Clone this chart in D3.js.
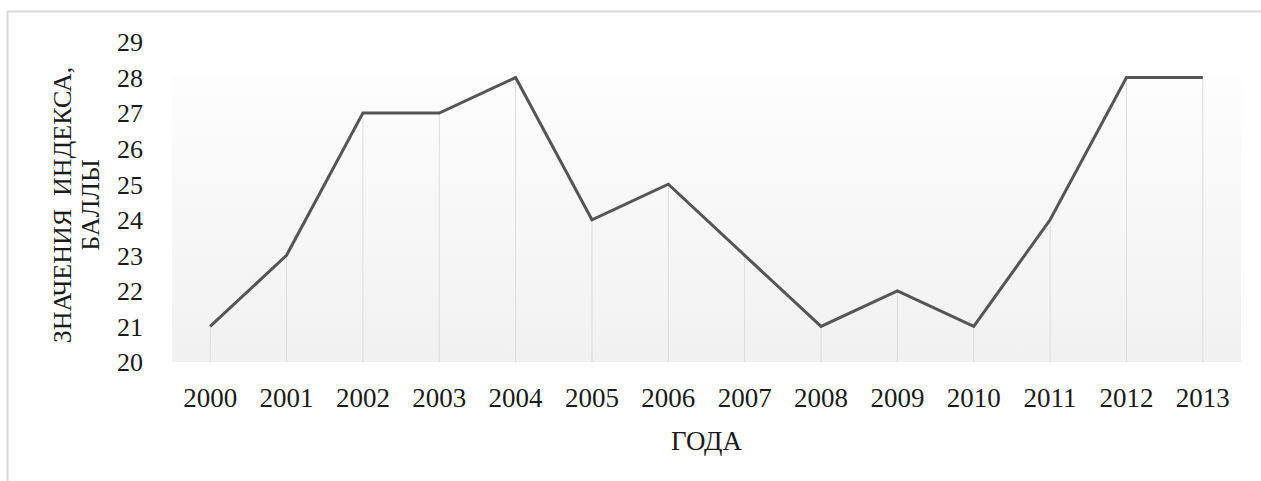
<!DOCTYPE html>
<html>
<head>
<meta charset="utf-8">
<script src="https://cdn.jsdelivr.net/npm/d3@7"></script>
<style>
  body { margin: 0; background: #fff; }
  text { font-family: "Liberation Serif", "Times New Roman", serif; fill: #1a1a1a; }
</style>
</head>
<body>
<svg width="1261" height="481"></svg>
<script>
var years = ["2000", "2001", "2002", "2003", "2004", "2005", "2006",
             "2007", "2008", "2009", "2010", "2011", "2012", "2013"];
var values = [21, 23, 27, 27, 28, 24, 25, 23, 21, 22, 21, 24, 28, 28];
var yTicks = [20, 21, 22, 23, 24, 25, 26, 27, 28, 29];
var xTitle = "ГОДА";
var yTitle = ["ЗНАЧЕНИЯ  ИНДЕКСА,", "БАЛЛЫ"];

var svg = d3.select("svg"),
    margin = {top: 42, right: 20, bottom: 119, left: 172},
    width = 1241 - margin.left,
    height = 362 - margin.top;

// chart border
svg.append("rect")
    .attr("x", 7.5).attr("y", 11.5)
    .attr("width", 1270).attr("height", 500)
    .attr("fill", "none").attr("stroke", "#d9d9d9").attr("stroke-width", 2);

var defs = svg.append("defs");
var grad = defs.append("linearGradient")
    .attr("id", "bg").attr("x1", 0).attr("y1", 0).attr("x2", 0).attr("y2", 1);
grad.append("stop").attr("offset", "0%").attr("stop-color", "#fdfdfd");
grad.append("stop").attr("offset", "100%").attr("stop-color", "#f1f1f1");

var g = svg.append("g")
    .attr("transform", "translate(" + margin.left + "," + margin.top + ")");

var x = d3.scaleBand().domain(years).range([0, width]);
var y = d3.scaleLinear().domain([20, 29]).range([height, 0]);

// plot background
g.append("rect")
    .attr("x", 0).attr("y", y(28) - 1)
    .attr("width", width).attr("height", height - y(28) + 1)
    .attr("fill", "url(#bg)");

// drop lines
g.selectAll(".drop")
    .data(values)
    .enter()
    .append("line")
    .attr("x1", (d, i) => x(years[i]) + x.bandwidth() / 2)
    .attr("x2", (d, i) => x(years[i]) + x.bandwidth() / 2)
    .attr("y1", d => y(d)).attr("y2", height)
    .attr("stroke", "#dcdcdc").attr("stroke-width", 1);

var line = d3.line()
    .x((d, i) => x(years[i]) + x.bandwidth() / 2)
    .y(d => y(d));

g.append("path")
    .datum(values)
    .attr("d", line)
    .attr("fill", "none")
    .attr("stroke", "#555555")
    .attr("stroke-width", 3)
    .attr("stroke-linejoin", "miter");

// axes
var yAxis = g.append("g")
    .call(d3.axisLeft(y).tickValues(yTicks).tickSize(0).tickPadding(29));
yAxis.select(".domain").remove();
yAxis.selectAll("text")
    .attr("font-size", 26).attr("dy", "0.34em")
    .style("font-family", "Liberation Serif").attr("fill", "#1a1a1a");

var xAxis = g.append("g")
    .attr("transform", "translate(0," + height + ")")
    .call(d3.axisBottom(x).tickSize(0).tickPadding(26));
xAxis.select(".domain").remove();
xAxis.selectAll("text")
    .attr("font-size", 27)
    .style("font-family", "Liberation Serif").attr("fill", "#1a1a1a");

// titles
g.append("text")
    .attr("x", width / 2).attr("y", height + 88)
    .attr("text-anchor", "middle")
    .attr("font-size", 27)
    .text(xTitle);

svg.selectAll(".ytitle")
    .data(yTitle)
    .enter()
    .append("text")
    .attr("class", "ytitle")
    .attr("text-anchor", "middle")
    .attr("font-size", 26)
    .attr("transform", (d, i) => "translate(" + (71 + i * 28) + ",205) rotate(-90)")
    .style("white-space", "pre")
    .text(d => d);
</script>
</body>
</html>
